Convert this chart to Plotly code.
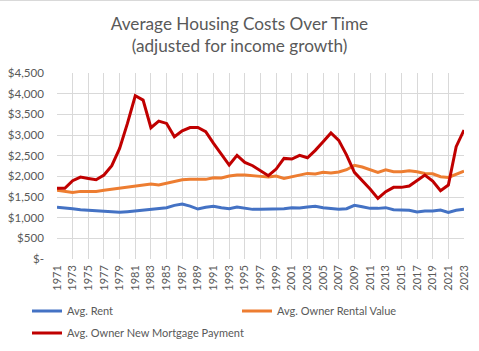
import plotly.graph_objects as go

years = list(range(1971, 2024))

avg_rent = [1250, 1242, 1217, 1193, 1177, 1177, 1161, 1137, 1129, 1145,
            1161, 1177, 1201, 1209, 1242, 1298, 1330, 1280, 1209, 1250,
            1274, 1242, 1217, 1258, 1225, 1201, 1201, 1201, 1201, 1217,
            1242, 1233, 1258, 1274, 1242, 1225, 1201, 1217, 1298, 1265,
            1225, 1225, 1242, 1193, 1177, 1177, 1137, 1161, 1161, 1185,
            1129, 1177, 1201]

owner_rental = [1661, 1645, 1612, 1636, 1636, 1636, 1661, 1685, 1709, 1733,
                1749, 1790, 1814, 1790, 1838, 1878, 1919, 1927, 1927, 1927,
                1967, 1959, 2007, 2031, 2031, 2007, 1999, 1983, 2007, 1950,
                1991, 2047, 2071, 2055, 2096, 2080, 2104, 2160, 2265, 2225,
                2160, 2096, 2160, 2112, 2112, 2136, 2112, 2071, 2063, 1991,
                1975, 2047, 2128]

new_mortgage = [1710, 1710, 1895, 1983, 1950, 1919, 2031, 2257, 2677, 3280,
                3950, 3845, 3176, 3337, 3280, 2958, 3103, 3180, 3184, 3079,
                2797, 2531, 2273, 2507, 2338, 2257, 2144, 2015, 2176, 2434,
                2418, 2507, 2450, 2628, 2837, 3050, 2870, 2515, 2096, 1895,
                1693, 1467, 1629, 1733, 1733, 1765, 1895, 2031, 1887, 1653,
                1790, 2717, 3120]

y_tick_vals = [0, 500, 1000, 1500, 2000, 2500, 3000, 3500, 4000, 4500]
y_tick_text = ["$-", "$500", "$1,000", "$1,500", "$2,000", "$2,500",
               "$3,000", "$3,500", "$4,000", "$4,500"]

font_family = "Lato, 'Open Sans', sans-serif"
txt = "#595959"

L, R, T, B = 57, 15, 73, 92
W, H = 479, 351
pw, ph = W - L - R, H - T - B

fig = go.Figure()
fig.add_trace(go.Scatter(x=years, y=avg_rent, mode="lines", name="Avg. Rent",
                         line=dict(color="#4472C4", width=3), legend="legend"))
fig.add_trace(go.Scatter(x=years, y=owner_rental, mode="lines", name="Avg. Owner Rental Value",
                         line=dict(color="#ED7D31", width=3), legend="legend2"))
fig.add_trace(go.Scatter(x=years, y=new_mortgage, mode="lines", name="Avg. Owner New Mortgage Payment",
                         line=dict(color="#C00000", width=3), legend="legend3"))


def leg(px_x, px_y):
    return dict(orientation="v", xref="container", yref="container",
                x=px_x / W, xanchor="left",
                y=1 - px_y / H, yanchor="middle",
                font=dict(size=11, color=txt, family=font_family), itemwidth=30,
                bgcolor="rgba(0,0,0,0)", borderwidth=0)


fig.update_layout(
    width=W, height=H,
    margin=dict(l=L, r=R, t=T, b=B, pad=0, autoexpand=False),
    paper_bgcolor="white", plot_bgcolor="white",
    font=dict(family=font_family, color=txt, size=12),
    showlegend=True,
    title=dict(text="Average Housing Costs Over Time<br>(adjusted for income growth)",
               x=0.5, xanchor="center", y=1 - 30 / H, yanchor="middle",
               font=dict(size=17.2, color=txt, family=font_family)),
    xaxis=dict(range=[1971, 2023], tick0=1971, dtick=2, tickangle=-90,
               showgrid=True, gridcolor="#d9d9d9", gridwidth=1,
               zeroline=False, showline=False, ticks="", automargin=False,
               ticklabelstandoff=3,
               tickfont=dict(size=11, color=txt), fixedrange=True),
    yaxis=dict(range=[0, 4500], tickvals=y_tick_vals, ticktext=y_tick_text,
               showgrid=True, gridcolor="#d9d9d9", gridwidth=1,
               zeroline=False, showline=False, ticks="", automargin=False,
               ticklabelstandoff=12,
               tickfont=dict(size=11.6, color=txt)),
    legend=leg(27, 311),
    legend2=leg(237, 311),
    legend3=leg(27, 333),
    shapes=[dict(type="line", xref="paper", yref="paper",
                 x0=-L / pw, x1=1 + R / pw, y0=1 + (T - 0.5) / ph, y1=1 + (T - 0.5) / ph,
                 line=dict(color="#d9d9d9", width=1))],
)

fig.write_html("out.html")
